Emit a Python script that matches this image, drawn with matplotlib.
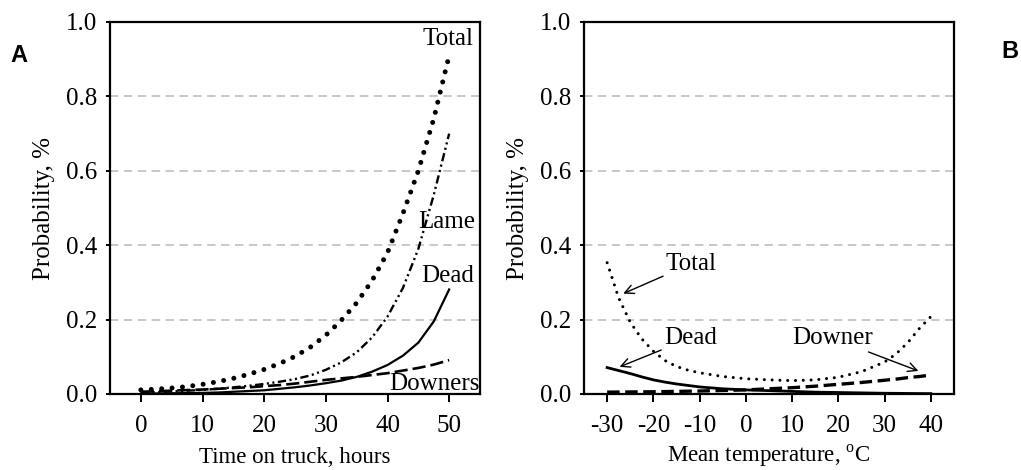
import matplotlib
matplotlib.use("Agg")
import matplotlib.pyplot as plt

plt.rcParams['font.family'] = ['Liberation Serif', 'DejaVu Serif']
plt.rcParams['mathtext.fontset'] = 'custom'
plt.rcParams['mathtext.rm'] = 'Liberation Serif'
plt.rcParams['lines.scale_dashes'] = False

# Panel A: time on truck (hours)
hours = [0, 2.5, 5, 7.5, 10, 12.5, 15, 17.5, 20, 22.5, 25, 27.5, 30, 32.5, 35, 37.5, 40, 42.5, 45, 47.5, 50]
total_a = [0.011, 0.013, 0.016, 0.020, 0.026, 0.033, 0.042, 0.053, 0.066, 0.082, 0.101, 0.126, 0.158,
           0.198, 0.245, 0.305, 0.380, 0.485, 0.600, 0.740, 0.910]
lame_a = [0.004, 0.005, 0.007, 0.009, 0.011, 0.014, 0.018, 0.022, 0.027, 0.033, 0.040, 0.050, 0.065,
          0.085, 0.112, 0.152, 0.208, 0.285, 0.390, 0.535, 0.700]
dead_a = [0.001, 0.0015, 0.002, 0.0025, 0.003, 0.004, 0.006, 0.008, 0.010, 0.014, 0.018, 0.023, 0.029,
          0.036, 0.046, 0.060, 0.078, 0.103, 0.138, 0.195, 0.281]
downers_a = [0.006, 0.0075, 0.009, 0.0105, 0.012, 0.014, 0.016, 0.018, 0.021, 0.024, 0.028, 0.033, 0.038,
             0.042, 0.046, 0.051, 0.056, 0.063, 0.070, 0.079, 0.091]

# Panel B: mean temperature (C)
temps = [-30, -27.5, -25, -22.5, -20, -17.5, -15, -12.5, -10, -5, 0, 5, 10, 15, 20, 25, 30, 32.5, 35, 37.5, 40]
total_b = [0.353, 0.258, 0.193, 0.148, 0.115, 0.090, 0.074, 0.064, 0.057, 0.047, 0.041, 0.038, 0.036,
           0.038, 0.045, 0.060, 0.086, 0.108, 0.138, 0.176, 0.208]
dead_b = [0.071, 0.063, 0.055, 0.046, 0.038, 0.032, 0.027, 0.023, 0.019, 0.014, 0.011, 0.009, 0.007,
          0.005, 0.004, 0.003, 0.002, 0.0018, 0.0015, 0.0012, 0.001]
downer_b = [0.005, 0.0053, 0.0055, 0.0058, 0.006, 0.0065, 0.007, 0.0075, 0.008, 0.0095, 0.011, 0.014,
            0.017, 0.021, 0.026, 0.031, 0.037, 0.040, 0.044, 0.047, 0.051]

yticks = [0.0, 0.2, 0.4, 0.6, 0.8, 1.0]
ytick_labels = ["0.0", "0.2", "0.4", "0.6", "0.8", "1.0"]
xticks_a = [0, 10, 20, 30, 40, 50]
xticks_b = [-30, -20, -10, 0, 10, 20, 30, 40]

W, H = 1021, 470
fig = plt.figure(figsize=(W / 100, H / 100), dpi=100)
axA = fig.add_axes([110 / W, 1 - 394 / H, 370 / W, 372 / H])
axB = fig.add_axes([584 / W, 1 - 394 / H, 370 / W, 372 / H])

FS = 18
FSX = 16.5
dot_big = dict(color='black', lw=3.6, linestyle=(0, (0.01, 7.5)), dash_capstyle='round')
dot_small = dict(color='black', lw=2.2, linestyle=(0, (0.01, 5.6)), dash_capstyle='round')

def style(ax, xticks, xlim, xlabel, labelpad):
    ax.set_xlim(*xlim)
    ax.set_ylim(0, 1.0)
    ax.set_yticks(yticks)
    ax.set_yticklabels(ytick_labels)
    ax.set_xticks(xticks)
    ax.set_xticklabels([str(t) for t in xticks])
    for s in ax.spines.values():
        s.set_linewidth(1.6)
    ax.tick_params(axis='x', direction='out', length=6, width=1.4, labelsize=FS, pad=9)
    ax.tick_params(axis='y', direction='out', length=3, width=1.4, labelsize=FS, pad=6)
    for g in [0.2, 0.4, 0.6, 0.8]:
        ax.axhline(g, color='#c4c4c4', lw=1.3, linestyle=(0, (6, 4)), zorder=0)
    ax.set_ylabel("Probability, %", fontsize=FS, labelpad=8)
    ax.set_xlabel(xlabel, fontsize=FSX, labelpad=labelpad)

# Panel A
axA.plot(hours, total_a, **dot_big)
axA.plot(hours, lame_a, color='black', lw=1.7, linestyle=(0, (6, 2.5, 1.5, 2.5, 1.5, 2.5)))
axA.plot(hours, dead_a, color='black', lw=1.6)
axA.plot(hours, downers_a, color='black', lw=1.9, linestyle=(0, (9.5, 3.6)))
style(axA, xticks_a, (-5, 55), "Time on truck, hours", 7)
axA.text(54, 0.955, "Total", ha='right', va='center', fontsize=FS)
axA.text(54.2, 0.463, "Lame", ha='right', va='center', fontsize=FS)
axA.text(54, 0.318, "Dead", ha='right', va='center', fontsize=FS)
axA.text(55, 0.026, "Downers", ha='right', va='center', fontsize=FS)

# Panel B
axB.plot(temps, total_b, **dot_small)
axB.plot(temps, dead_b, color='black', lw=2.0)
axB.plot(temps, downer_b, color='black', lw=2.4, linestyle=(0, (9, 4)))
style(axB, xticks_b, (-35, 45), r"Mean temperature, $^{\mathrm{o}}$C", 4)
arrow = dict(arrowstyle='->', color='black', lw=1.0, mutation_scale=16, shrinkA=0, shrinkB=0)
axB.annotate("Total", xy=(-26.5, 0.27), xytext=(-17.3, 0.35), ha='left', va='center',
             fontsize=FS, arrowprops=arrow)
axB.annotate("Dead", xy=(-27.3, 0.073), xytext=(-17.7, 0.15), ha='left', va='center',
             fontsize=FS, arrowprops=arrow)
axB.annotate("Downer", xy=(37.3, 0.062), xytext=(27.4, 0.15), ha='right', va='center',
             fontsize=FS, arrowprops=arrow)

fig.text(10 / W, 1 - 55 / H, "A", fontsize=17, fontweight='bold', family='Liberation Sans',
         ha='left', va='center')
fig.text(1018 / W, 1 - 52 / H, "B", fontsize=17, fontweight='bold', family='Liberation Sans',
         ha='right', va='center')

fig.savefig("out.png", dpi=100)
